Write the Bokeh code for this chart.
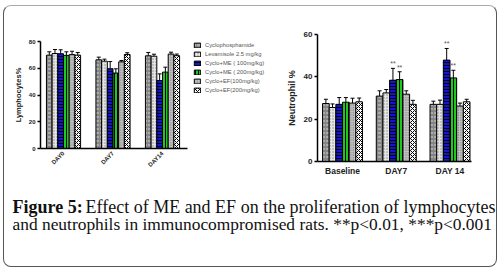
import numpy as np
from bokeh.plotting import figure
from bokeh.models import (Range1d, FixedTicker, ColumnDataSource, Whisker, TeeHead,
                          Legend, LegendItem, Spacer)
from bokeh.core.properties import value
from bokeh.embed import file_html
from bokeh.resources import INLINE

# ---------------- data ----------------
groups = ["Cyclophosphamide", "Levamisole 2.5 mg/kg", "Cyclo+ME ( 100mg/kg)",
          "Cyclo+ME ( 200mg/kg)", "Cyclo+EF(100mg/kg)", "Cyclo+EF(200mg/kg)"]

lym_days = ["DAY0", "DAY7", "DAY14"]
lym_day0 = [69.8, 71.0, 70.8, 69.6, 70.2, 69.8]
lym_day7 = [66.3, 65.3, 59.6, 56.4, 64.8, 70.3]
lym_day14 = [69.3, 69.0, 50.8, 57.1, 70.6, 69.4]
lym_err0 = [2.5, 3.0, 3.0, 2.7, 2.5, 2.0]
lym_err7 = [2.0, 1.5, 5.4, 3.2, 1.0, 1.3]
lym_err14 = [2.5, 1.5, 5.0, 3.7, 1.4, 1.2]

neu_days = ["Baseline", "DAY7", "DAY 14"]
neu_base = [27.4, 25.5, 27.0, 28.0, 27.6, 28.2]
neu_day7 = [30.9, 32.4, 38.4, 38.7, 31.8, 27.0]
neu_day14 = [27.0, 27.0, 47.9, 39.5, 26.2, 28.2]
neu_errb = [2.0, 1.7, 3.2, 2.2, 2.3, 1.8]
neu_err7 = [2.5, 1.6, 5.6, 3.7, 1.6, 1.9]
neu_err14 = [1.5, 2.0, 5.5, 3.6, 1.4, 1.2]
neu_starsb = ["", "", "", "", "", ""]
neu_stars7 = ["", "", "**", "**", "", ""]
neu_stars14 = ["", "", "**", "**", "", ""]

caption_bold = "Figure 5:"
caption_line1 = "Effect of ME and EF on the proliferation of lymphocytes"
caption_line2 = "and neutrophils in immunocompromised rats. **p<0.01, ***p<0.001"

# ---------------- styles ----------------
fills = ["#858585", "#e4e4e4", "#1414d2", "#1ec81e", "#c4c4c4", "#ffffff"]
hatches = ["horizontal_dash", "dot", "horizontal_line", "vertical_line", "dot", "diagonal_cross"]
hatch_colors = ["#d0d0d0", "#8a8a8a", "#000000", "#000000", "#606060", "#000000"]
hatch_scales = [4, 3, 3, 3, 2.5, 4]

FONT = "Liberation Sans"


def place(left, top):
    return {"position": "absolute", "left": f"{left}px", "top": f"{top}px"}


def bar_style(gi):
    return dict(fill_color=fills[gi], line_color="black", line_width=1,
                hatch_pattern=hatches[gi], hatch_color=hatch_colors[gi],
                hatch_scale=hatch_scales[gi], hatch_weight=1)


def bar_chart(p, day_vals, day_errs, bw, star_lists=None, star_size="6px"):
    n = len(groups)
    for gi in range(n):
        xs = [d + (gi - (n - 1) / 2) * bw for d in range(len(day_vals))]
        tops = [vals[gi] for vals in day_vals]
        ups = [t + errs[gi] for t, errs in zip(tops, day_errs)]
        src = ColumnDataSource(dict(x=xs, top=tops, upper=ups))
        w = Whisker(base="x", upper="upper", lower="top", source=src,
                    line_color="black", line_width=1,
                    upper_head=TeeHead(size=4, line_width=1, line_color="black"),
                    lower_head=None)
        p.add_layout(w)
        p.vbar(x="x", top="top", width=bw, bottom=0, source=src, **bar_style(gi))
        if star_lists is not None:
            st = [sl[gi] for sl in star_lists]
            ssrc = ColumnDataSource(dict(x=xs, y=ups, t=st))
            p.text(x="x", y="y", text="t", source=ssrc, text_align="center",
                   text_baseline="bottom", y_offset=-1, text_font=value(FONT),
                   text_font_size=star_size, text_color="#555555")


def style_axes(p, tick_size, label_size):
    for ax in p.axis:
        ax.axis_line_width = 1.5
        ax.axis_line_color = "black"
        ax.minor_tick_line_color = None
        ax.major_label_text_font = FONT
        ax.major_label_text_font_style = "bold"
        ax.major_label_text_font_size = tick_size
        ax.major_label_text_color = "#222222"
        ax.axis_label_text_font = FONT
        ax.axis_label_text_font_style = "bold"
        ax.axis_label_text_font_size = label_size
        ax.axis_label_text_color = "#222222"
    p.xaxis.major_tick_line_color = None
    p.xaxis.major_tick_out = 0
    p.yaxis.major_tick_out = 3
    p.yaxis.major_tick_in = 0
    p.yaxis.major_tick_line_width = 1.5
    p.xgrid.visible = False
    p.ygrid.visible = False
    p.outline_line_color = None


# ---------------- outer frame ----------------
frame_box = Spacer(width=494, height=262,
                   styles={**place(3, 5), "border": "1px solid #555555",
                           "border-top-color": "#aaaaaa", "border-radius": "8px",
                           "box-sizing": "border-box"})

# ---------------- left chart ----------------
p1 = figure(width=190, height=180, title=None, output_backend="svg", toolbar_location=None,
            x_range=Range1d(-0.465, 2.505), y_range=Range1d(0, 80),
            min_border_left=36, min_border_right=7, min_border_top=35, min_border_bottom=38,
            border_fill_alpha=0, background_fill_alpha=0, styles=place(4, 6))
bw1 = 0.115
bar_chart(p1, [lym_day0, lym_day7, lym_day14], [lym_err0, lym_err7, lym_err14], bw1)
p1.yaxis.ticker = FixedTicker(ticks=[0, 20, 40, 60, 80])
p1.xaxis.ticker = FixedTicker(ticks=[0, 1, 2])
p1.xaxis.major_label_overrides = {i: d for i, d in enumerate(lym_days)}
p1.xaxis.major_label_orientation = np.pi / 4
p1.yaxis.axis_label = "Lymphocytes%"
style_axes(p1, "6px", "7.5px")
p1.yaxis.axis_label_standoff = 3
p1.yaxis.major_label_standoff = 2
p1.xaxis.major_label_standoff = 4

# ---------------- legend ----------------
pl = figure(width=80, height=58, title=None, output_backend="svg", toolbar_location=None,
            x_range=Range1d(0, 1), y_range=Range1d(0, 1), min_border=0,
            border_fill_alpha=0, background_fill_alpha=0, styles=place(193, 41))
pl.axis.visible = False
pl.grid.visible = False
pl.outline_line_color = None
leg_renderers = [pl.vbar(x=[5], top=[0.5], width=0.1, **bar_style(gi)) for gi in range(len(groups))]
legend = Legend(items=[LegendItem(label=g, renderers=[r]) for g, r in zip(groups, leg_renderers)],
                location="top_left", orientation="vertical",
                glyph_width=8, glyph_height=6, label_height=7, label_width=40,
                spacing=2, padding=0, margin=0,
                label_text_font=FONT, label_text_font_size="5.8px",
                label_text_color="#555555", label_standoff=4,
                border_line_color=None, background_fill_alpha=0)
pl.add_layout(legend, "center")

# ---------------- right chart ----------------
p2 = figure(width=223, height=180, title=None, output_backend="svg", toolbar_location=None,
            x_range=Range1d(-0.466, 2.4), y_range=Range1d(0, 60),
            min_border_left=43, min_border_right=26, min_border_top=28, min_border_bottom=25,
            border_fill_alpha=0, background_fill_alpha=0, styles=place(274, 6))
bw2 = 0.124
bar_chart(p2, [neu_base, neu_day7, neu_day14], [neu_errb, neu_err7, neu_err14], bw2,
          star_lists=[neu_starsb, neu_stars7, neu_stars14], star_size="7px")
p2.yaxis.ticker = FixedTicker(ticks=[0, 20, 40, 60])
p2.xaxis.ticker = FixedTicker(ticks=[0, 1, 2])
p2.xaxis.major_label_overrides = {i: d for i, d in enumerate(neu_days)}
p2.yaxis.axis_label = "Neutrophil %"
style_axes(p2, "8px", "9px")
p2.xaxis.major_label_text_font_size = "8.5px"
p2.yaxis.axis_label_standoff = 4
p2.yaxis.major_label_standoff = 2
p2.xaxis.major_label_standoff = 4

# ---------------- caption ----------------
pc = figure(width=492, height=78, title=None, output_backend="svg", toolbar_location=None,
            x_range=Range1d(0, 492), y_range=Range1d(78, 0), min_border=0,
            border_fill_alpha=0, background_fill_alpha=0, styles=place(4, 186))
pc.axis.visible = False
pc.grid.visible = False
pc.outline_line_color = None
CAP_FONT = "Liberation Serif"
pc.text(x=[8], y=[20], text=[caption_bold], text_font=value(CAP_FONT),
        text_font_style="bold", text_font_size="18px", text_baseline="alphabetic",
        text_color="#111111")
pc.text(x=[81], y=[20], text=[caption_line1], text_font=value(CAP_FONT),
        text_font_size="18px", text_baseline="alphabetic", text_color="#111111")
pc.text(x=[8], y=[37], text=[caption_line2], text_font=value(CAP_FONT),
        text_font_size="17.4px", text_baseline="alphabetic", text_color="#111111")

open("out.html", "w").write(file_html([frame_box, p1, p2, pl, pc], INLINE))
